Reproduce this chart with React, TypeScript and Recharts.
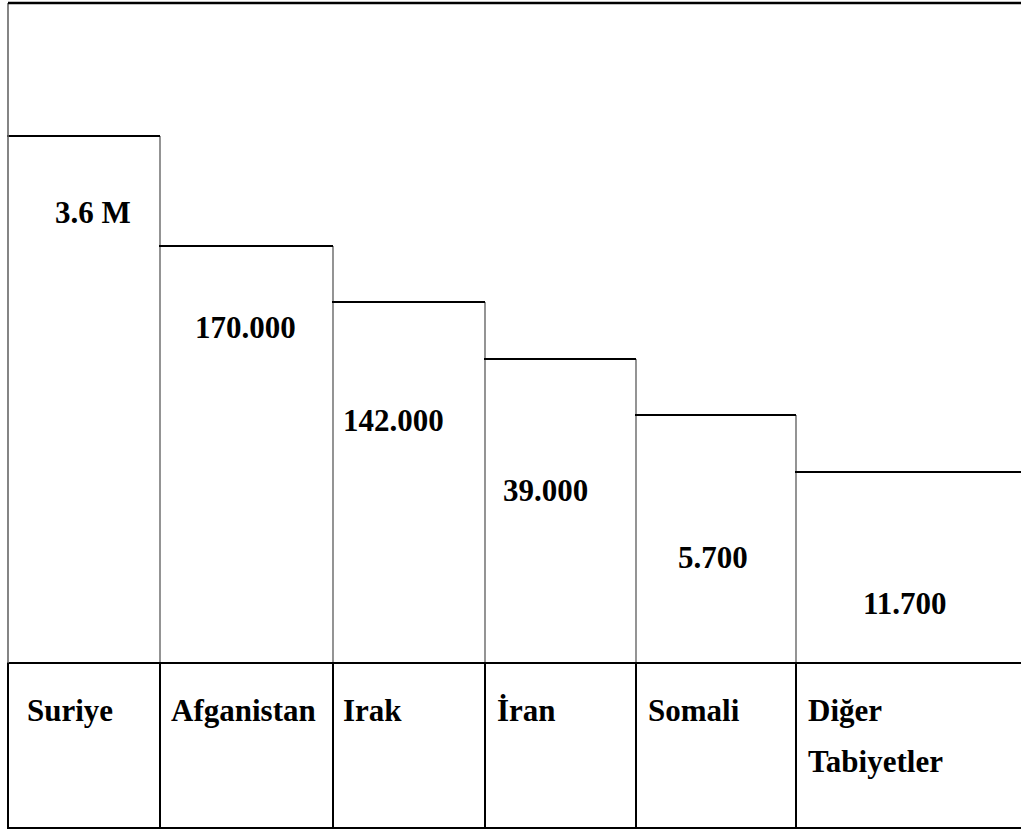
import { ComposedChart, XAxis, YAxis, ReferenceArea, ReferenceLine } from 'recharts'

// ── Data ──────────────────────────────────────────────────────────────────────

const categories = ['Suriye', 'Afganistan', 'Irak', 'İran', 'Somali', 'Diğer Tabiyetler']
const valueLabels = ['3.6 M', '170.000', '142.000', '39.000', '5.700', '11.700']
// step heights of each column (chart units)
const stepLevels = [527, 417, 361, 304, 248, 191]

// ── Layout ────────────────────────────────────────────────────────────────────

const columnWidths = [152, 173, 152, 151, 160, 234]
const valueLabelPos = [[47, 87], [35, 92], [10, 129], [18, 142], [42, 153], [67, 142]]
const catLabelDx = [19, 11, 10, 12, 12, 12]

const TOP = 660
const ROW = -165
const FONT = { fontFamily: '"Liberation Serif", "Times New Roman", serif', fontWeight: 700, fontSize: 31 }

const starts = columnWidths.map((_, i) => columnWidths.slice(0, i).reduce((s, v) => s + v, 0))
const total = columnWidths.reduce((s, v) => s + v, 0)

const columns = categories.map((name, i) => ({
  name,
  label: valueLabels[i],
  level: stepLevels[i],
  x1: starts[i],
  x2: starts[i] + columnWidths[i],
}))

function StepCell({ x, y, width, height, idx }: any) {
  const [dx, dy] = valueLabelPos[idx]
  return (
    <g>
      <line x1={x + width} y1={y} x2={x + width} y2={y + height} stroke="#666" strokeWidth={1.4} />
      <line x1={x - 1} y1={y} x2={x + width} y2={y} stroke="#000" strokeWidth={2} />
      <text x={x + dx} y={y + dy} fill="#000" style={FONT}>
        {valueLabels[idx]}
      </text>
    </g>
  )
}

function NameCell({ x, y, width, height, idx }: any) {
  const lines = categories[idx].split(' ')
  return (
    <g>
      <rect x={x} y={y} width={width} height={height} fill="none" stroke="#000" strokeWidth={2} />
      <text x={x + catLabelDx[idx]} y={y + 58} fill="#000" style={FONT}>
        {lines.map((l, j) => (
          <tspan key={l} x={x + catLabelDx[idx]} dy={j === 0 ? 0 : 51}>
            {l}
          </tspan>
        ))}
      </text>
    </g>
  )
}

export default function App() {
  return (
    <div style={{ width: 1021, height: 830, overflow: 'hidden', background: '#fff' }}>
      <style>{'body{margin:0}'}</style>
      <ComposedChart
        width={8 + total}
        height={830}
        data={columns}
        margin={{ top: 3, right: 0, bottom: 2, left: 8 }}
      >
        <XAxis type="number" dataKey="x1" domain={[0, total]} hide allowDataOverflow />
        <YAxis type="number" domain={[ROW, TOP]} hide allowDataOverflow />
        <ReferenceLine
          segment={[{ x: 0, y: 0 }, { x: 0, y: TOP }]}
          stroke="#666"
          strokeWidth={1.6}
          ifOverflow="visible"
        />
        {columns.map((c, i) => (
          <ReferenceArea
            key={c.name}
            x1={c.x1}
            x2={c.x2}
            y1={0}
            y2={c.level}
            ifOverflow="visible"
            shape={(p: any) => <StepCell {...p} idx={i} />}
          />
        ))}
        <ReferenceLine y={TOP} stroke="#000" strokeWidth={2.4} ifOverflow="visible" />
        {columns.map((c, i) => (
          <ReferenceArea
            key={'n' + c.name}
            x1={c.x1}
            x2={c.x2}
            y1={ROW}
            y2={0}
            ifOverflow="visible"
            shape={(p: any) => <NameCell {...p} idx={i} />}
          />
        ))}
      </ComposedChart>
    </div>
  )
}
